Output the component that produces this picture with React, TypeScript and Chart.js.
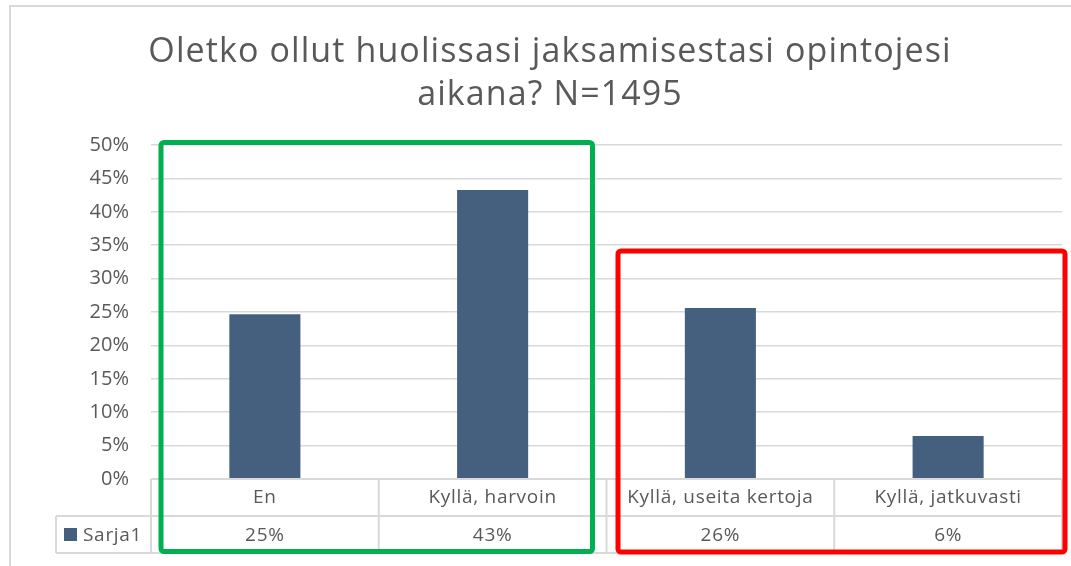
import React, { useEffect, useRef } from "react";
import { Chart, registerables } from "chart.js";

Chart.register(...registerables);

const titleLines = ["Oletko ollut huolissasi jaksamisestasi opintojesi", "aikana? N=1495"];
const categories = ["En", "Kyllä, harvoin", "Kyllä, useita kertoja", "Kyllä, jatkuvasti"];
const seriesName = "Sarja1";
const values = [24.66, 43.25, 25.6, 6.45];
const tableLabels = ["25%", "43%", "26%", "6%"];
const yTicks = { min: 0, max: 50, step: 5 };

const BAR = "#455F7E";
const TEXT = "#595959";
const LINE = "#d9d9d9";
const FONT = "'Open Sans', 'Noto Sans', sans-serif";

const overlay = {
  id: "overlay",
  afterDraw(chart: any) {
    const ctx = chart.ctx as CanvasRenderingContext2D;
    const area = chart.chartArea;
    const xs = chart.scales.x;
    ctx.save();

    // frame
    ctx.strokeStyle = LINE;
    ctx.lineWidth = 2;
    ctx.beginPath();
    ctx.moveTo(10, 566);
    ctx.lineTo(10, 6);
    ctx.lineTo(1071, 6);
    ctx.stroke();

    // title
    ctx.fillStyle = TEXT;
    ctx.textAlign = "center";
    ctx.textBaseline = "alphabetic";
    ctx.font = `34px ${FONT}`;
    (ctx as any).letterSpacing = "1.1px";
    ctx.fillText(titleLines[0], 550, 62);
    ctx.fillText(titleLines[1], 550, 105);

    // table
    const row1 = area.bottom;
    const row2 = row1 + 37;
    const row3 = row2 + 37;
    const tableLeft = 56;
    const half = (xs.getPixelForValue(1) - xs.getPixelForValue(0)) / 2;
    ctx.strokeStyle = LINE;
    ctx.lineWidth = 2;
    ctx.beginPath();
    ctx.moveTo(area.left, row1);
    ctx.lineTo(area.right, row1);
    ctx.moveTo(tableLeft, row2);
    ctx.lineTo(area.right, row2);
    ctx.moveTo(tableLeft, row3);
    ctx.lineTo(area.right, row3);
    ctx.moveTo(tableLeft, row2);
    ctx.lineTo(tableLeft, row3);
    for (let i = 0; i <= categories.length; i++) {
      const x = i < categories.length ? xs.getPixelForValue(i) - half : xs.getPixelForValue(i - 1) + half;
      ctx.moveTo(x, row1);
      ctx.lineTo(x, row3);
    }
    ctx.stroke();

    ctx.fillStyle = TEXT;
    ctx.font = `19px ${FONT}`;
    (ctx as any).letterSpacing = "0.7px";
    ctx.textBaseline = "middle";
    ctx.textAlign = "center";
    categories.forEach((c, i) => {
      const x = xs.getPixelForValue(i);
      ctx.fillText(c, x, (row1 + row2) / 2);
      ctx.fillText(tableLabels[i], x, (row2 + row3) / 2 + 1);
    });
    ctx.fillStyle = BAR;
    ctx.fillRect(64, 528, 13, 13);
    ctx.fillStyle = TEXT;
    ctx.textAlign = "left";
    ctx.fillText(seriesName, 83, (row2 + row3) / 2 + 1);
    (ctx as any).letterSpacing = "0px";

    // highlight boxes
    const roundRect = (l: number, t: number, r: number, b: number, color: string) => {
      ctx.strokeStyle = color;
      ctx.lineWidth = 5;
      ctx.lineJoin = "round";
      ctx.beginPath();
      ctx.roundRect(l, t, r - l, b - t, 3);
      ctx.stroke();
    };
    const c0 = xs.getPixelForValue(0) - half;
    const c2 = xs.getPixelForValue(2) - half;
    const c3 = xs.getPixelForValue(3) + half;
    roundRect(c0 + 10, area.top - 2.5, c2 - 14, row3 - 1.5, "#00B050");
    roundRect(c2 + 11.5, 251, c3 + 3, row3 - 1, "#FF0000");

    ctx.restore();
  },
};

export default function App() {
  const ref = useRef<HTMLCanvasElement | null>(null);
  useEffect(() => {
    if (!ref.current) return;
    const chart = new Chart(ref.current, {
      type: "bar",
      data: {
        labels: categories,
        datasets: [
          {
            label: seriesName,
            data: values,
            backgroundColor: BAR,
            categoryPercentage: 1,
            barPercentage: 0.312,
          },
        ],
      },
      options: {
        responsive: false,
        animation: false,
        devicePixelRatio: 1,
        layout: { padding: { left: 0, top: 145, right: 9, bottom: 87 } },
        plugins: {
          legend: { display: false },
          title: { display: false },
          tooltip: { enabled: false },
        },
        scales: {
          x: { display: false, offset: true, grid: { display: false } },
          y: {
            min: yTicks.min,
            max: yTicks.max,
            afterFit: (s: any) => {
              s.width = 151;
            },
            border: { display: false },
            grid: { color: LINE, lineWidth: 1.5, drawTicks: false },
            ticks: {
              stepSize: yTicks.step,
              padding: 22,
              color: TEXT,
              font: { family: FONT, size: 20 },
              callback: (v: any) => `${v}%`,
            },
          },
        },
      },
      plugins: [overlay],
    });
    return () => chart.destroy();
  }, []);
  return (
    <div style={{ position: "absolute", left: 0, top: 0, width: 1071, height: 566, background: "#fff" }}>
      <canvas ref={ref} width={1071} height={566} />
    </div>
  );
}
